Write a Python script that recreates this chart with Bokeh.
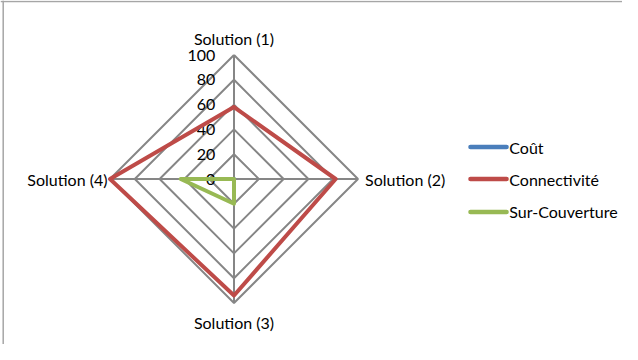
from bokeh.plotting import figure
from bokeh.models import Range1d, Span
from bokeh.embed import file_html
from bokeh.resources import INLINE
from bokeh.core.properties import value
import numpy as np

categories = ["Solution (1)", "Solution (2)", "Solution (3)", "Solution (4)"]
cout = [0, 0, 0, 0]
connectivite = [58, 82, 94, 100]
sur_couverture = [0, 0, 20, 43]
ticks = [0, 20, 40, 60, 80, 100]
series_names = ["Coût", "Connectivité", "Sur-Couverture"]
colors = ["#4A7EBB", "#BE4B48", "#98B954"]

W, H = 622, 344
cx_px, cy_px = 233.5, 178.5
scale = 1.24  # px per unit

x0, x1 = -cx_px / scale, (W - cx_px) / scale
y0, y1 = -(H - cy_px) / scale, cy_px / scale
p = figure(width=W, height=H, output_backend="svg", toolbar_location=None,
           x_range=Range1d(x0, x1), y_range=Range1d(y0, y1), min_border=0)
p.axis.visible = False
p.grid.visible = False
p.outline_line_color = None
p.background_fill_color = "white"

# chart border (top and left edges visible in the window)
p.add_layout(Span(location=x0 + 2.7 / scale, dimension="height", line_color="#A6A6A6", line_width=1.5))
p.add_layout(Span(location=y1 - 0.9 / scale, dimension="width", line_color="#A6A6A6", line_width=1.5))

angles = [np.pi / 2 - i * 2 * np.pi / len(categories) for i in range(len(categories))]

def to_xy(vals):
    xs = [v * np.cos(a) for v, a in zip(vals, angles)]
    ys = [v * np.sin(a) for v, a in zip(vals, angles)]
    return xs + [xs[0]], ys + [ys[0]]

grid_col = "#868686"
for t in ticks[1:]:
    xs, ys = to_xy([t] * len(categories))
    p.line(xs, ys, line_color=grid_col, line_width=2)
for a in angles:
    p.line([0, ticks[-1] * np.cos(a)], [0, ticks[-1] * np.sin(a)], line_color=grid_col, line_width=2)

font = value("Lato")
fs = "16px"
# tick labels
p.text(x=[-15] * len(ticks), y=ticks, text=[str(t) for t in ticks], text_align="right",
       text_baseline="middle", text_font=font, text_font_size=fs, text_color="black")

# category labels
lx = [0, 105.7, 0, -102]
ly = [113.5, 0, -116, 0]
aligns = ["center", "left", "center", "right"]
for c, x, y, al in zip(categories, lx, ly, aligns):
    p.text(x=[x], y=[y], text=[c], text_align=al, text_baseline="middle",
           text_font=font, text_font_size=fs, text_color="black")

for vals, col in zip([cout, connectivite, sur_couverture], colors):
    xs, ys = to_xy(vals)
    p.line(xs, ys, line_color=col, line_width=4, line_join="round", line_cap="round")

# legend
lx0, lx1, tx = 190.7, 219.8, 222.0
rows = [25.8, 0, -26.6]
for name, col, ry in zip(series_names, colors, rows):
    p.line([lx0, lx1], [ry, ry], line_color=col, line_width=4.5, line_cap="round")
    p.text(x=[tx], y=[ry], text=[name], text_align="left", text_baseline="middle",
           text_font=font, text_font_size=fs, text_color="black")

open("out.html", "w").write(file_html(p, INLINE))
